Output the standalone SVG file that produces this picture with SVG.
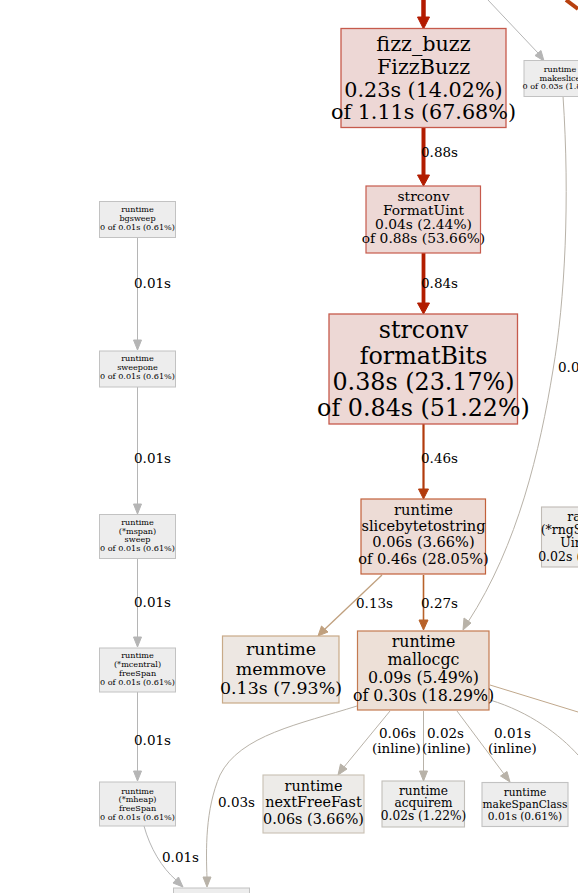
<svg xmlns="http://www.w3.org/2000/svg" width="578" height="893" viewBox="0 0 578 893">
<style>
text{font-family:"DejaVu Serif","Liberation Serif",serif;fill:#000;text-anchor:middle}
.el{font-size:13.5px;text-anchor:start}
.sm{font-size:8.1px}
.g rect{fill:#ededed;stroke:#c2c2c2;stroke-width:1}
.e{fill:none}
.gr{stroke:#b5b5b5;stroke-width:1}
.gt{stroke:#b8b2a8;stroke-width:1}
.ag{fill:#b5b5b5;stroke:#b5b5b5}
.at{fill:#b8b2a8;stroke:#b8b2a8}
</style>
<rect width="578" height="893" fill="#fff"/>
<g id="edges">
  <!-- into FizzBuzz -->
  <path class="e" d="M423.5,0 L423.5,18" stroke="#b31a00" stroke-width="4.5"/>
  <polygon points="417.5,17 429.5,17 423.5,29" fill="#b31a00" stroke="#b31a00"/>
  <!-- top right thick -->
  <path class="e" d="M566,0 L578,9" stroke="#b8400f" stroke-width="4"/>
  <!-- to makeslice -->
  <path class="e gr" d="M488,0 L538,53"/>
  <polygon class="ag" points="535,55.5 541,50.5 544,61"/>
  <!-- FizzBuzz -> FormatUint -->
  <path class="e" d="M423.5,128 L423.5,176" stroke="#b21c00" stroke-width="4"/>
  <polygon points="417.5,175 429.5,175 423.5,186" fill="#b21c00" stroke="#b21c00"/>
  <text class="el" x="421" y="157">0.88s</text>
  <!-- FormatUint -> formatBits -->
  <path class="e" d="M423.5,253 L423.5,304" stroke="#b21d00" stroke-width="3.8"/>
  <polygon points="417.5,303 429.5,303 423.5,314" fill="#b21d00" stroke="#b21d00"/>
  <text class="el" x="421" y="288">0.84s</text>
  <!-- formatBits -> slicebytetostring -->
  <path class="e" d="M423.5,424 L423.5,490" stroke="#b23b0d" stroke-width="2.2"/>
  <polygon points="418.5,489 428.5,489 423.5,499" fill="#b23b0d" stroke="#b23b0d"/>
  <text class="el" x="421" y="463">0.46s</text>
  <!-- slicebytetostring -> memmove -->
  <path class="e" d="M382,575 L325,629" stroke="#c0a07e" stroke-width="1.3"/>
  <polygon points="321.5,626 328,632 318,636" fill="#c0a07e" stroke="#c0a07e"/>
  <text class="el" x="356" y="608">0.13s</text>
  <!-- slicebytetostring -> mallocgc -->
  <path class="e" d="M423.5,575 L423.5,621" stroke="#b8622a" stroke-width="1.6"/>
  <polygon points="419,620 428,620 423.5,630" fill="#b8622a" stroke="#b8622a"/>
  <text class="el" x="421" y="608">0.27s</text>
  <!-- makeslice -> mallocgc -->
  <path class="e gt" d="M563,96 C570,200 565,300 553,370 C540,450 518,545 468,622"/>
  <polygon class="at" points="464,618 471,623 463,630"/>
  <text class="el" x="558" y="372">0.03s</text>
  <!-- mallocgc -> nextFreeFast -->
  <path class="e gt" d="M390,711 L344,767"/>
  <polygon class="at" points="340.5,764 347,769 338,775"/>
  <text class="el" x="379" y="738">0.06s</text>
  <text class="el" x="372" y="753">(inline)</text>
  <!-- mallocgc -> acquirem -->
  <path class="e gt" d="M423.5,711 L423.5,772"/>
  <polygon class="at" points="419.5,771 427.5,771 423.5,781"/>
  <text class="el" x="427" y="738">0.02s</text>
  <text class="el" x="422" y="753">(inline)</text>
  <!-- mallocgc -> makeSpanClass -->
  <path class="e gt" d="M457,711 L504,774"/>
  <polygon class="at" points="500.5,776 507,771.5 510,782"/>
  <text class="el" x="494" y="738">0.01s</text>
  <text class="el" x="488" y="753">(inline)</text>
  <!-- mallocgc -> right -->
  <path class="e" d="M490,685 L578,712" stroke="#c0a88c" stroke-width="1"/>
  <path class="e gt" d="M490,700 C530,712 560,735 578,755"/>
  <!-- mallocgc -> bottom node -->
  <path class="e gt" d="M357,706 C300,724 240,735 220,775 C205,810 206,850 207,878"/>
  <polygon class="at" points="203,877 211,877 207,887"/>
  <text class="el" x="218" y="807">0.03s</text>
  <!-- left column -->
  <path class="e gr" d="M137.5,237 L137.5,341"/>
  <polygon class="ag" points="133.5,340 141.5,340 137.5,350"/>
  <text class="el" x="134" y="288">0.01s</text>
  <path class="e gr" d="M137.5,387 L137.5,505"/>
  <polygon class="ag" points="133.5,504 141.5,504 137.5,514"/>
  <text class="el" x="134" y="463">0.01s</text>
  <path class="e gr" d="M137.5,559 L137.5,638"/>
  <polygon class="ag" points="133.5,637 141.5,637 137.5,647"/>
  <text class="el" x="134" y="607">0.01s</text>
  <path class="e gr" d="M137.5,692 L137.5,772"/>
  <polygon class="ag" points="133.5,771 141.5,771 137.5,781"/>
  <text class="el" x="134" y="745">0.01s</text>
  <path class="e gr" d="M144,826 C150,848 162,868 176,880"/>
  <polygon class="ag" points="173,883 178.5,877 183,887"/>
  <text class="el" x="162" y="862">0.01s</text>
</g>
<g id="n-fizzbuzz">
  <rect x="341" y="28.5" width="165" height="99" fill="#edd7d5" stroke="#c65a4c" stroke-width="1.3"/>
  <text x="423.5" y="51" font-size="20.7">fizz_buzz</text>
  <text x="423.5" y="74" font-size="20.7">FizzBuzz</text>
  <text x="423.5" y="97" font-size="20.7">0.23s (14.02%)</text>
  <text x="423.5" y="119" font-size="20.7">of 1.11s (67.68%)</text>
</g>
<g id="n-makeslice" class="g">
  <rect x="524" y="60.5" width="72" height="36"/>
  <text class="sm" x="560" y="72">runtime</text>
  <text class="sm" x="560" y="81">makeslice</text>
  <text class="sm" x="560" y="89">0 of 0.03s (1.83%)</text>
</g>
<g id="n-formatuint">
  <rect x="366" y="186" width="114.5" height="67" fill="#edd8d5" stroke="#c65a4c" stroke-width="1.2"/>
  <text x="423.5" y="201" font-size="13.8">strconv</text>
  <text x="423.5" y="215" font-size="13.8">FormatUint</text>
  <text x="423.5" y="229" font-size="13.8">0.04s (2.44%)</text>
  <text x="423.5" y="243" font-size="13.8">of 0.88s (53.66%)</text>
</g>
<g id="n-formatbits">
  <rect x="329" y="314" width="188.5" height="110" fill="#edd8d5" stroke="#c65a4c" stroke-width="1.3"/>
  <text x="423.5" y="338" font-size="23.8">strconv</text>
  <text x="423.5" y="364" font-size="23.8">formatBits</text>
  <text x="423.5" y="390" font-size="23.8">0.38s (23.17%)</text>
  <text x="423.5" y="416" font-size="23.8">of 0.84s (51.22%)</text>
</g>
<g id="n-slicebytetostring">
  <rect x="361" y="499" width="124.5" height="75" fill="#eddcd6" stroke="#c2603a" stroke-width="1.2"/>
  <text x="423.5" y="515" font-size="14.6">runtime</text>
  <text x="423.5" y="531" font-size="14.6">slicebytetostring</text>
  <text x="423.5" y="547" font-size="14.6">0.06s (3.66%)</text>
  <text x="423.5" y="564" font-size="14.6">of 0.46s (28.05%)</text>
</g>
<g id="n-memmove">
  <rect x="222.5" y="636" width="116.5" height="67" fill="#ede7e2" stroke="#c8aa88" stroke-width="1.2"/>
  <text x="281" y="655" font-size="17.4">runtime</text>
  <text x="281" y="675" font-size="17.4">memmove</text>
  <text x="281" y="694" font-size="17.4">0.13s (7.93%)</text>
</g>
<g id="n-mallocgc">
  <rect x="357.5" y="631" width="131.5" height="79" fill="#ede0d7" stroke="#c47a50" stroke-width="1.2"/>
  <text x="423.5" y="647" font-size="15.8">runtime</text>
  <text x="423.5" y="665" font-size="15.8">mallocgc</text>
  <text x="423.5" y="683" font-size="15.8">0.09s (5.49%)</text>
  <text x="423.5" y="701" font-size="15.8">of 0.30s (18.29%)</text>
</g>
<g id="n-nextfreefast">
  <rect x="263" y="775" width="101" height="58" fill="#edebe8" stroke="#c8c0b2" stroke-width="1.1"/>
  <text x="313.5" y="791" font-size="14.4">runtime</text>
  <text x="313.5" y="807" font-size="14.4">nextFreeFast</text>
  <text x="313.5" y="824" font-size="14.4">0.06s (3.66%)</text>
</g>
<g id="n-acquirem">
  <rect x="382" y="781" width="82.5" height="46" fill="#ededec" stroke="#c2bfba" stroke-width="1.1"/>
  <text x="423.5" y="795" font-size="12.2">runtime</text>
  <text x="423.5" y="807" font-size="12.2">acquirem</text>
  <text x="423.5" y="820" font-size="12.2">0.02s (1.22%)</text>
</g>
<g id="n-makespanclass">
  <rect x="482" y="782.5" width="86" height="44" fill="#ededed" stroke="#c2c2c2" stroke-width="1.1"/>
  <text x="525" y="796" font-size="10.6">runtime</text>
  <text x="525" y="808" font-size="10.6">makeSpanClass</text>
  <text x="525" y="820" font-size="10.6">0.01s (0.61%)</text>
</g>
<g id="n-rand">
  <rect x="541.5" y="507" width="80" height="60" fill="#edecea" stroke="#c0bbb5" stroke-width="1.1"/>
  <text x="582" y="521" font-size="12.5">rand</text>
  <text x="582" y="534" font-size="12.5">(*rngSource)</text>
  <text x="582" y="547" font-size="12.5">Uint64</text>
  <text x="582" y="561" font-size="12.5">0.02s (1.22%)</text>
</g>
<g id="n-bgsweep" class="g">
  <rect x="99.5" y="201.5" width="76" height="36"/>
  <text class="sm" x="137.5" y="212">runtime</text>
  <text class="sm" x="137.5" y="221">bgsweep</text>
  <text class="sm" x="137.5" y="230">0 of 0.01s (0.61%)</text>
</g>
<g id="n-sweepone" class="g">
  <rect x="99.5" y="351" width="76" height="36"/>
  <text class="sm" x="137.5" y="361">runtime</text>
  <text class="sm" x="137.5" y="370">sweepone</text>
  <text class="sm" x="137.5" y="379">0 of 0.01s (0.61%)</text>
</g>
<g id="n-mspan-sweep" class="g">
  <rect x="99.5" y="514.5" width="76" height="44"/>
  <text class="sm" x="137.5" y="525">runtime</text>
  <text class="sm" x="137.5" y="534">(*mspan)</text>
  <text class="sm" x="137.5" y="542">sweep</text>
  <text class="sm" x="137.5" y="551">0 of 0.01s (0.61%)</text>
</g>
<g id="n-mcentral-freespan" class="g">
  <rect x="99.5" y="648" width="76" height="44"/>
  <text class="sm" x="137.5" y="658">runtime</text>
  <text class="sm" x="137.5" y="667">(*mcentral)</text>
  <text class="sm" x="137.5" y="676">freeSpan</text>
  <text class="sm" x="137.5" y="685">0 of 0.01s (0.61%)</text>
</g>
<g id="n-mheap-freespan" class="g">
  <rect x="99.5" y="782" width="76" height="44"/>
  <text class="sm" x="137.5" y="794">runtime</text>
  <text class="sm" x="137.5" y="802">(*mheap)</text>
  <text class="sm" x="137.5" y="811">freeSpan</text>
  <text class="sm" x="137.5" y="820">0 of 0.01s (0.61%)</text>
</g>
<g id="n-bottom" class="g">
  <rect x="173.5" y="888" width="76" height="20"/>
</g>
</svg>
